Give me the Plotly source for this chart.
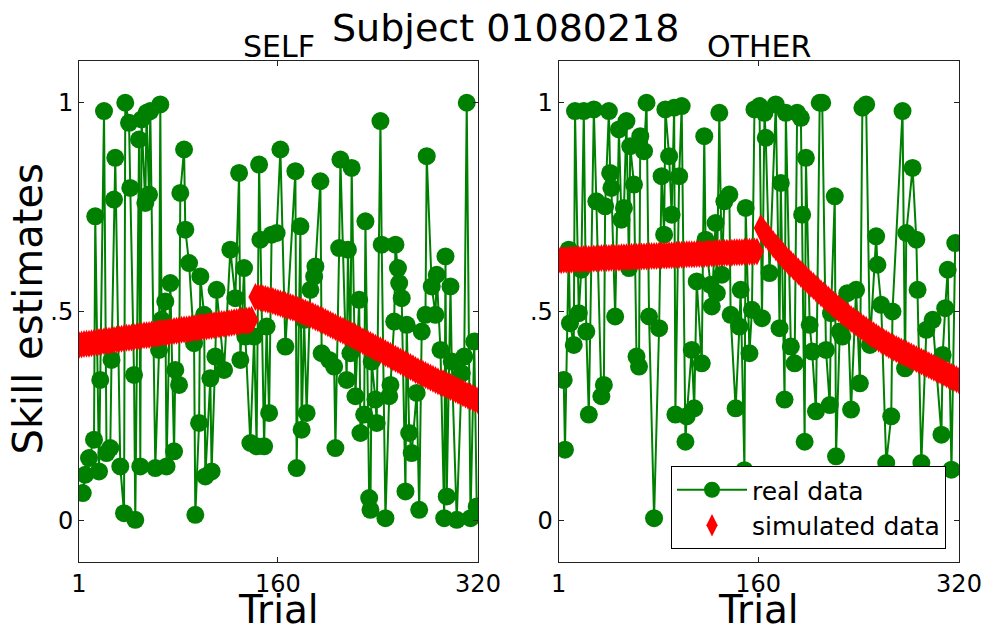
import plotly.graph_objects as go

# ---------------- data ----------------
# SELF panel, real data (trial, estimate)
self_real_trial = [4, 6, 9, 13, 14, 17, 18, 21, 23, 26, 27, 29, 30, 34, 37, 38, 41, 42, 45, 46,
                   49, 50, 51, 54, 55, 57, 58, 62, 65, 66, 67, 70, 71, 74, 77, 78, 81, 82, 85, 86,
                   89, 93, 94, 97, 98, 101, 102, 106, 107, 110, 111, 117, 122, 126, 129, 130, 133, 134, 138, 141,
                   143, 145, 146, 149, 151, 153, 155, 159, 162, 166, 174, 175, 178, 179, 181, 183, 186, 189, 190, 194,
                   195, 201, 205, 206, 209, 210, 215, 216, 218, 219, 222, 225, 226, 229, 230, 233, 234, 235, 238, 239,
                   242, 243, 246, 249, 250, 253, 254, 256, 257, 259, 262, 263, 265, 267, 271, 273, 275, 278, 279, 283,
                   286, 287, 290, 293, 294, 295, 298, 299, 303, 307, 309, 311, 314, 317, 319]
self_real_value = [.065, .109, .149, .193, .728, .117, .336, .980, .161, .173, .384, .768, .868, .129, .017, 1.0, .952, .796, .348, .001,
                   .912, .129, .960, .760, .976, .780, .980, .125, .408, .996, .480, .524, .129, .568, .165, .360, .324, .784, .888, .696,
                   .616, .424, .013, .233, .584, .492, .105, .340, .117, .392, .552, .360, .648, .532, .832, .384, .604, .440, .185, .440,
                   .177, .852, .672, .177, .464, .257, .684, .688, .888, .416, .836, .125, .704, .217, .480, .257, .552, .584, .608, .812,
                   .400, .384, .368, .173, .652, .864, .336, .648, .400, .844, .297, .528, .209, .253, .716, .053, .025, .380, .289, .233,
                   .956, .660, .005, .297, .324, .476, .660, .604, .568, .532, .069, .468, .209, .161, .305, .025, .452, .492, .872, .560,
                   .492, .588, .408, .005, .632, .057, .560, .380, .001, .352, .392, 1.0, .005, .428, .033]

# OTHER panel, real data (trial, estimate)
other_real_trial = [5, 6, 9, 10, 13, 14, 17, 19, 21, 23, 25, 29, 31, 35, 37, 38, 41, 42, 43, 46,
                    49, 51, 53, 55, 57, 58, 61, 63, 65, 66, 69, 71, 73, 77, 81, 83, 85, 86, 89, 91,
                    93, 94, 97, 99, 102, 103, 107, 109, 111, 115, 117, 118, 122, 123, 126, 127, 129, 131, 133, 137,
                    138, 142, 145, 146, 149, 150, 153, 155, 157, 161, 163, 165, 166, 169, 174, 177, 178, 181, 182, 186,
                    189, 191, 194, 195, 197, 198, 201, 203, 206, 209, 211, 214, 217, 218, 221, 222, 225, 227, 231, 234,
                    238, 241, 243, 246, 249, 254, 255, 258, 262, 266, 267, 275, 277, 278, 283, 286, 287, 290, 294, 299,
                    306, 307, 309, 311, 314, 317]
other_real_value = [.336, .169, .648, .472, .420, .980, .496, .600, .980, .452, .253, .984, .764, .297, .324, .752, .980, .832, .796, .488,
                    .936, .720, .748, .956, .604, .896, .804, .392, .368, .920, .884, 1.0, .488, .005, .460, .824, .684, .984, .872, .732,
                    .988, .253, .824, .992, .188, .249, .408, .268, .572, .376, .920, .672, .564, .512, .712, .544, .976, .588, .764, .780,
                    .492, .268, .464, .552, .120, .748, .400, .504, .984, .992, .484, .976, .916, .592, .996, .460, .808, .289, .976, .416,
                    .376, .976, .964, .732, .188, .868, .468, .404, .261, 1.0, 1.0, .408, .276, .496, .776, .153, .452, .440, .544, .265,
                    .552, .328, .988, .996, .420, .680, .612, .516, .137, .249, .500, .980, .364, .688, .844, .672, .552, .137, .456, .480,
                    .205, .396, .508, .600, .121, .664]

# SELF panel, simulated data
self_sim_trial_a = list(range(1, 140, 2))
self_sim_value_a = [.420, .421, .422, .423, .423, .424, .425, .426, .427, .428, .429, .430, .430, .431, .432, .433, .434, .435, .436, .437,
                    .437, .438, .439, .440, .441, .442, .443, .443, .444, .445, .446, .447, .448, .449, .450, .450, .451, .452, .453, .454,
                    .455, .456, .457, .457, .458, .459, .460, .461, .462, .463, .464, .464, .465, .466, .467, .468, .469, .470, .470, .471,
                    .472, .473, .474, .475, .476, .477, .477, .478, .479, .480]
self_sim_trial_b = list(range(142, 321, 2))
self_sim_value_b = [.535, .534, .533, .531, .530, .528, .527, .525, .523, .521, .519, .517, .515, .513, .511, .509, .507, .504, .502, .499,
                    .497, .494, .492, .489, .486, .484, .481, .478, .475, .472, .469, .466, .463, .460, .457, .454, .451, .448, .445, .442,
                    .439, .436, .432, .429, .426, .423, .420, .417, .413, .410, .407, .404, .400, .397, .394, .390, .387, .384, .380, .377,
                    .374, .370, .367, .364, .360, .357, .354, .351, .348, .345, .342, .339, .336, .333, .330, .328, .325, .322, .319, .316,
                    .313, .310, .307, .304, .301, .298, .296, .293, .290, .287]

# OTHER panel, simulated data
other_sim_trial_a = list(range(1, 160, 2))
other_sim_value_a = [.623, .623, .624, .624, .624, .624, .625, .625, .625, .625, .626, .626, .626, .626, .627, .627, .627, .628, .628, .628,
                     .628, .629, .629, .629, .629, .630, .630, .630, .630, .631, .631, .631, .632, .632, .632, .632, .633, .633, .633, .633,
                     .634, .634, .634, .634, .635, .635, .635, .636, .636, .636, .636, .637, .637, .637, .637, .638, .638, .638, .638, .639,
                     .639, .639, .640, .640, .640, .640, .641, .641, .641, .641, .642, .642, .642, .642, .643, .643, .643, .643, .644, .644]
other_sim_trial_b = list(range(162, 321, 2))
other_sim_value_b = [.700, .692, .684, .677, .669, .661, .654, .647, .640, .633, .626, .620, .614, .608, .602, .596, .590, .584, .578, .572,
                     .566, .561, .555, .550, .544, .539, .533, .528, .523, .517, .512, .507, .502, .497, .492, .487, .482, .478, .473, .469,
                     .464, .460, .456, .451, .447, .443, .439, .435, .431, .427, .424, .420, .417, .413, .410, .407, .404, .401, .398, .395,
                     .392, .389, .386, .383, .380, .377, .374, .371, .368, .365, .362, .359, .356, .353, .350, .347, .344, .341, .338, .335]

x_tick_vals = [1, 160, 320]
x_tick_text = ["1", "160", "320"]
y_tick_vals = [0, 0.5, 1]
y_tick_text = ["0", ".5", "1"]
panel_titles = ["SELF", "OTHER"]
suptitle = "Subject 01080218"
x_label = "Trial"
y_label = "Skill estimates"

# ---------------- styling ----------------
FONT = "DejaVu Sans"
GREEN = "#008000"
RED = "#ff0000"
W, H = 988, 633
ML, MR, MT, MB = 79, 29, 61, 71

fig = go.Figure()


def add_panel(xa, ya, rt, rv, sim_parts, show_legend):
    fig.add_trace(go.Scatter(
        x=rt, y=rv, mode="lines+markers", name="real data",
        line=dict(color=GREEN, width=2),
        marker=dict(color=GREEN, size=18, symbol="circle"),
        xaxis=xa, yaxis=ya, showlegend=show_legend, legendgroup="real"))
    first = True
    for st, sv in sim_parts:
        fig.add_trace(go.Scatter(
            x=st, y=sv, mode="markers", name="simulated data",
            marker=dict(color=RED, size=20, symbol="diamond-tall", line=dict(width=0)),
            xaxis=xa, yaxis=ya, showlegend=(show_legend and first), legendgroup="sim"))
        first = False


add_panel("x", "y", self_real_trial, self_real_value,
          [(self_sim_trial_a, self_sim_value_a), (self_sim_trial_b, self_sim_value_b)], False)
add_panel("x2", "y2", other_real_trial, other_real_value,
          [(other_sim_trial_a, other_sim_value_a), (other_sim_trial_b, other_sim_value_b)], True)

pw = W - ML - MR
ph = H - MT - MB
left_dom = [0, (478 - ML) / pw]
right_dom = [(558.7 - ML) / pw, 1]

axis_common = dict(showline=True, linecolor="#222", linewidth=1, mirror="ticks",
                   ticks="inside", ticklen=5, tickcolor="#222", showgrid=False, zeroline=False,
                   automargin=False,
                   tickfont=dict(family=FONT, size=24, color="black"))

fig.update_layout(
    width=W, height=H,
    margin=dict(l=ML, r=MR, t=MT, b=MB, autoexpand=False),
    paper_bgcolor="white", plot_bgcolor="white",
    font=dict(family=FONT, color="black"),
    xaxis=dict(domain=left_dom, range=[1, 320], tickvals=x_tick_vals, ticktext=x_tick_text,
               anchor="y", **axis_common),
    xaxis2=dict(domain=right_dom, range=[1, 320], tickvals=x_tick_vals, ticktext=x_tick_text,
                anchor="y2", **axis_common),
    yaxis=dict(range=[-0.1, 1.1], tickvals=y_tick_vals, ticktext=y_tick_text, anchor="x",
               **axis_common),
    yaxis2=dict(range=[-0.1, 1.1], tickvals=y_tick_vals, ticktext=y_tick_text, anchor="x2",
                **axis_common),
    showlegend=True,
    legend=dict(x=(946 - ML) / pw, xanchor="right", y=(562 - 549) / ph, yanchor="bottom",
                bgcolor="white", bordercolor="black", borderwidth=1,
                font=dict(family=FONT, size=25, color="black"), itemwidth=70,
                tracegroupgap=0),
)

annots = []
for title, dom in zip(panel_titles, [left_dom, right_dom]):
    annots.append(dict(text=title, x=(dom[0] + dom[1]) / 2, y=1 + (MT - 46.6) / ph,
                       xref="paper", yref="paper",
                       xanchor="center", yanchor="middle", showarrow=False,
                       font=dict(family=FONT, size=30, color="black")))
    annots.append(dict(text=x_label, x=(dom[0] + dom[1]) / 2, y=0, yshift=-(609 - (H - MB)),
                       xref="paper", yref="paper",
                       xanchor="center", yanchor="middle", showarrow=False,
                       font=dict(family=FONT, size=39, color="black")))
annots.append(dict(text=y_label, x=-(ML - 27.5) / pw, y=0.5 - (309 - (MT + ph / 2)) / ph,
                   xref="paper", yref="paper", textangle=-90,
                   xanchor="center", yanchor="middle", showarrow=False,
                   font=dict(family=FONT, size=40, color="black")))
annots.append(dict(text=suptitle, x=(506 - ML) / pw, y=1 + (MT - 27.7) / ph, xref="paper", yref="paper",
                   xanchor="center", yanchor="middle", showarrow=False,
                   font=dict(family=FONT, size=38, color="black")))
fig.update_layout(annotations=annots)

fig.write_html("out.html")
